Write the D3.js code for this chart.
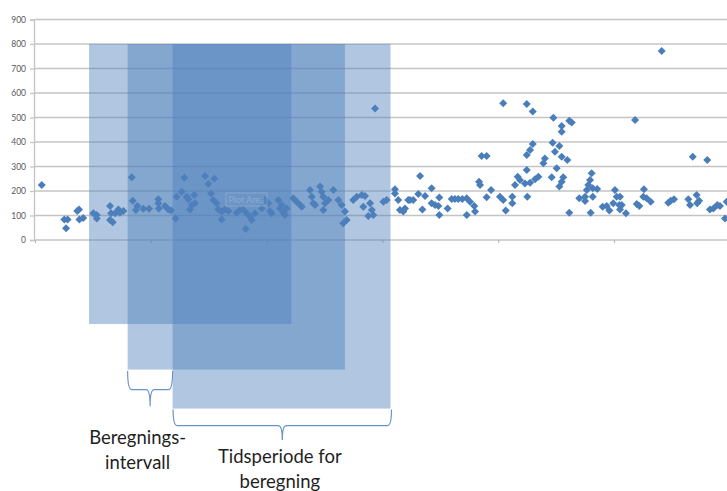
<!DOCTYPE html>
<html>
<head>
<meta charset="utf-8">
<script src="https://cdn.jsdelivr.net/npm/d3@7"></script>
<style>
  body { margin: 0; background: #fff; }
  svg { display: block; }
</style>
</head>
<body>
<div id="chart"></div>
<script>
// y axis tick values
var yTicks = [0, 100, 200, 300, 400, 500, 600, 700, 800, 900];
// x axis: days, tick every 60
var xTicks = [0, 60, 120, 180, 240, 300, 360];

// [day, value]
var readings = [
  [3.5, 224], [15.2, 84], [16.9, 84], [16.1, 48], [21.9, 118], [22.8, 125], [23, 84], [25, 90],
  [30.2, 109], [32, 88], [32, 102], [38.9, 139], [39.4, 109], [38.9, 82], [40.3, 72], [41.5, 109],
  [43.2, 125], [45.8, 118], [44, 111], [50.1, 256], [50.6, 160], [53, 139], [52.3, 122], [56.1, 128],
  [59.1, 128], [63.9, 166], [63.9, 150], [64.2, 129], [67.4, 139], [69.1, 125], [70.5, 120], [72.9, 88],
  [73.4, 177], [76, 197], [77.4, 254], [78.6, 177], [79.4, 166], [80.3, 125], [81.2, 143], [82.5, 184],
  [82.9, 150], [88.1, 261], [89.8, 229], [92.9, 250], [91.2, 190], [92.4, 163], [94.1, 150], [95, 125],
  [96.7, 116], [96.7, 84], [98.4, 125], [100.2, 118], [104.5, 111], [106.2, 122], [107.9, 125], [109.7, 109],
  [111.4, 95], [112.3, 82], [109.2, 45], [114, 109], [119.2, 163], [120.9, 150], [121.8, 118], [122.6, 109],
  [126.1, 163], [126.9, 129], [128.7, 111], [117.5, 129],
  [176.2, 537], [127.8, 143], [129.5, 102], [130.4, 129], [133.8, 170], [135.6, 156], [137.3, 143], [138.2, 136],
  [142.5, 204], [143.4, 177], [144.2, 150], [145.1, 143], [147.7, 218], [148.5, 197], [149.4, 177], [150.3, 150],
  [149.4, 122], [152, 163], [154.6, 204], [157.2, 163], [158.9, 143], [160.6, 116], [161.5, 82], [159.7, 68],
  [164.9, 163], [166.7, 177], [169.3, 184], [171, 180], [170.1, 136], [173.6, 150], [174.5, 122], [172.7, 98],
  [175.3, 102], [180.5, 156], [182.2, 163], [186.5, 207], [186.5, 190], [188.2, 163], [189.1, 122], [190.8, 116],
  [193.4, 163],
  [191.7, 129], [194.3, 163], [196, 163], [198.6, 188], [199.5, 261], [200.7, 125], [202.1, 180], [205.5, 211],
  [205.5, 150], [207.3, 143], [209, 139], [209.5, 173], [209.5, 102], [213.8, 129], [215.9, 167], [217.6, 167],
  [219.3, 167], [221.4, 167], [223.7, 170], [225.4, 156], [227.6, 139], [228, 116], [223.7, 102], [230.1, 238],
  [230.6, 224], [231.4, 343], [234, 343], [234, 174], [236.3, 204], [240.9, 177], [242.6, 163], [243.9, 120],
  [247.3, 177], [247.3, 150], [248.7, 224], [250.1, 258], [251.3, 245], [242.6, 558],
  [254.8, 555], [257.9, 524], [268.6, 499], [272.9, 465], [272.9, 442], [276.8, 487], [278.1, 480], [257.9, 392],
  [256.5, 367], [254.8, 347], [264.2, 333], [263.4, 313], [268.2, 397], [269.4, 360], [271.7, 384], [272.9, 340],
  [275.8, 327], [254.8, 286], [270.3, 293], [267.7, 256], [253.9, 231], [256.5, 234], [259.1, 248], [260.8, 258],
  [273.7, 256], [272.9, 238], [271.7, 218], [255.1, 177], [276.8, 111], [288.4, 272], [287.6, 245], [286.7, 224],
  [289, 211], [285.9, 204], [291.3, 208], [285, 177], [282, 170], [289, 177], [285, 159], [287.9, 111],
  [294.1, 136], [296.2, 139], [297.6, 120], [299.6, 150], [300.5, 204], [301.4, 177], [302.7, 143], [303.1, 125],
  [306.2, 109],
  [324.7, 771], [310.9, 490], [340.8, 340], [348.3, 327], [304, 143], [303.1, 177], [311.8, 147], [313.1, 139],
  [315.5, 207], [315.2, 177], [316.9, 170], [319, 156], [328.1, 152], [329.4, 160], [331.1, 166], [338.5, 166],
  [339.4, 143], [342.8, 184], [344.1, 160], [343.1, 150], [349.7, 125], [351.5, 129], [353.5, 143], [354.9, 139],
  [357.5, 88], [358.4, 156]
];

// shaded windows: start day, end day, top value, bottom value
var windows = [
  { start: 28, end: 132.8, top: 800, bottom: -343 },
  { start: 48, end: 160.6, top: 800, bottom: -529 },
  { start: 71.3, end: 184.2, top: 800, bottom: -688 }
];

var labelInterval = ["Beregnings-", "intervall"];
var labelPeriod = ["Tidsperiode for", "beregning"];

var width = 727, height = 491;
var svg = d3.select("#chart").append("svg")
  .attr("width", width)
  .attr("height", height);

var x = d3.scaleLinear().domain([0, 360]).range([35, 729.8]);
var y = d3.scaleLinear().domain([0, 900]).range([240, 19.5]);

var blue = "#4f81bd";
var grid = "#c4c4c4";

// gridlines
svg.append("g")
  .selectAll("line")
  .data(yTicks.filter((d) => d > 0))
  .enter()
  .append("line")
  .attr("x1", x(0))
  .attr("x2", width)
  .attr("y1", (d) => y(d))
  .attr("y2", (d) => y(d))
  .attr("stroke", grid)
  .attr("stroke-width", 1.3);

// y axis
var yAxis = svg.append("g")
  .attr("transform", `translate(${x(0) - 1},0)`)
  .call(d3.axisLeft(y).tickValues(yTicks).tickSize(4).tickPadding(4));
yAxis.select(".domain").attr("stroke", grid).attr("stroke-width", 1.3);
yAxis.selectAll(".tick line").attr("stroke", grid).attr("stroke-width", 1.3);
yAxis.selectAll("text")
  .attr("fill", "#595959")
  .style("font-family", "Lato, 'Liberation Sans', sans-serif")
  .style("font-size", "8.5px");

// x axis at zero
var xAxis = svg.append("g")
  .attr("transform", `translate(0,${y(0)})`)
  .call(d3.axisBottom(x).tickValues(xTicks).tickSize(3).tickFormat(""));
xAxis.select(".domain").attr("stroke", grid).attr("stroke-width", 1.3)
  .attr("d", `M${x(0)},0H${width}`);
xAxis.selectAll(".tick line").attr("stroke", "#b0b0b0");

// points
var diamond = d3.symbol().type(d3.symbolSquare).size(32);
svg.append("g")
  .selectAll("path")
  .data(readings)
  .enter()
  .append("path")
  .attr("d", diamond)
  .attr("transform", (d) => `translate(${x(d[0])},${y(d[1])}) rotate(45)`)
  .attr("fill", "#4a7ebb");

// shaded windows
svg.append("g")
  .selectAll("rect")
  .data(windows)
  .enter()
  .append("rect")
  .attr("x", (d) => x(d.start))
  .attr("y", (d) => y(d.top))
  .attr("width", (d) => x(d.end) - x(d.start))
  .attr("height", (d) => y(d.bottom) - y(d.top))
  .attr("fill", blue)
  .attr("fill-opacity", 0.45);

// "Plot Area" hover box
var pa = svg.append("g").attr("opacity", 0.55);
pa.append("rect")
  .attr("x", 226).attr("y", 193).attr("width", 41).attr("height", 13)
  .attr("fill", "none").attr("stroke", "#9fb4d0").attr("stroke-width", 1);
pa.append("text")
  .attr("x", 246.5).attr("y", 203)
  .attr("text-anchor", "middle")
  .attr("fill", "#a9bcd6")
  .style("font-family", "Lato, sans-serif")
  .style("font-size", "9px")
  .text("Plot Area");

// curly braces
function brace(x0, x1, yTop, depth) {
  var xm = (x0 + x1) / 2;
  var yMid = yTop + depth;
  var r = 4;
  return `M${x0},${yTop} Q${x0},${yMid} ${x0 + r},${yMid} L${xm - r},${yMid} Q${xm},${yMid} ${xm},${yMid + depth * 0.9}` +
    ` M${xm},${yMid + depth * 0.9} Q${xm},${yMid} ${xm + r},${yMid} L${x1 - r},${yMid} Q${x1},${yMid} ${x1},${yTop}`;
}

var b1 = { x0: x(windows[1].start), x1: x(windows[2].start), top: y(windows[1].bottom) + 1.5 };
var b2 = { x0: x(windows[2].start) + 0.5, x1: x(windows[2].end) + 1, top: y(windows[2].bottom) + 1 };

svg.append("path")
  .attr("d", brace(b1.x0, b1.x1, b1.top, 18.5))
  .attr("fill", "none").attr("stroke", "#6a94c9").attr("stroke-width", 1.2);
svg.append("path")
  .attr("d", brace(b2.x0, b2.x1, b2.top, 16))
  .attr("fill", "none").attr("stroke", "#6a94c9").attr("stroke-width", 1.2);

// labels
var textStyle = (sel) => sel
  .attr("text-anchor", "middle")
  .attr("fill", "#1f1f1f")
  .style("font-family", "Lato, 'Liberation Sans', sans-serif")
  .style("font-size", "18.5px");

svg.append("g").selectAll("text")
  .data(labelInterval)
  .enter()
  .append("text")
  .attr("x", (b1.x0 + b1.x1) / 2 - 12.5)
  .attr("y", (d, i) => 444 + i * 25)
  .call(textStyle)
  .text((d) => d);

svg.append("g").selectAll("text")
  .data(labelPeriod)
  .enter()
  .append("text")
  .attr("x", (b2.x0 + b2.x1) / 2 - 2.5)
  .attr("y", (d, i) => 462.5 + i * 25.5)
  .call(textStyle)
  .text((d) => d);
</script>
</body>
</html>
